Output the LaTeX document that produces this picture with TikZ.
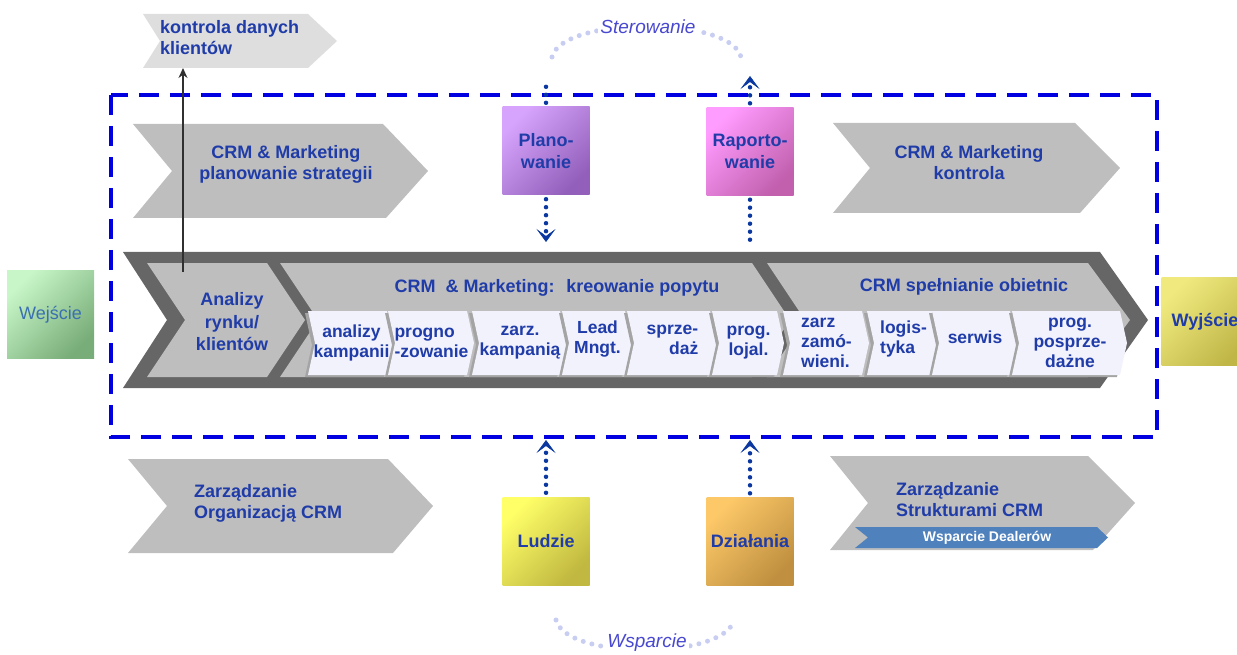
\documentclass[tikz,border=0pt]{standalone}
\usepackage{fontspec}
\setmainfont{Liberation Sans}
\usetikzlibrary{arrows.meta}

\definecolor{txtblue}{HTML}{1F3CA8}
\definecolor{inblue}{HTML}{3A70B0}
\definecolor{frameblue}{HTML}{0000E0}
\definecolor{dotblue}{HTML}{0A38A0}
\definecolor{arcdot}{HTML}{C8CDF2}
\definecolor{arclabel}{HTML}{4848D0}
\definecolor{chevdark}{HTML}{666666}
\definecolor{chevmid}{HTML}{BEBEBE}
\definecolor{chevlight}{HTML}{DEDEDE}
\definecolor{subfill}{HTML}{F2F2FD}
\definecolor{subshade}{HTML}{A4A4A4}
\definecolor{bannerblue}{HTML}{4F81BD}
\definecolor{arrowgrey}{HTML}{303030}
\definecolor{greenA}{RGB}{200,246,200}
\definecolor{greenB}{RGB}{120,172,120}
\definecolor{oliveA}{RGB}{240,234,126}
\definecolor{oliveB}{RGB}{192,182,72}
\definecolor{violetA}{RGB}{214,164,252}
\definecolor{violetB}{RGB}{146,96,186}
\definecolor{pinkA}{RGB}{255,156,255}
\definecolor{pinkB}{RGB}{194,96,174}
\definecolor{yellowA}{RGB}{255,255,104}
\definecolor{yellowB}{RGB}{192,184,64}
\definecolor{orangeA}{RGB}{252,200,104}
\definecolor{orangeB}{RGB}{192,144,64}

% one white step box inside a process chevron: left x, right x, name, text options, text
\newcommand\stepbox[5]{%
  \fill[subshade] (#1-3,313) -- (#2-3,313) -- (#2+4,345) -- (#2-3,377) -- (#1-3,377) -- (#1+4,345) -- cycle;
  \fill[subfill] (#1,311) -- (#2,311) -- (#2+7,343) -- (#2,375) -- (#1,375) -- (#1+7,343) -- cycle;
  \node[sublbl,#4] (#3) at ({(#1+#2)/2+4},343) {#5};}

\begin{document}
\begin{tikzpicture}[x=1pt,y=-1pt,
  lbl/.style={font=\bfseries\fontsize{18}{21}\selectfont, text=txtblue, align=center, inner sep=0pt},
  sublbl/.style={font=\bfseries\fontsize{17.5}{20}\selectfont, text=txtblue, align=center, inner sep=0pt},
  sq/.style 2 args={minimum width=87pt, minimum height=88pt, inner sep=0pt,
             top color=#1, bottom color=#2, shading angle=45,
             font=\bfseries\fontsize{18}{22}\selectfont, text=txtblue, align=center},
  frame/.style={draw=frameblue, line width=4pt, dash pattern=on 20pt off 11pt},
  dotconn/.style={draw=dotblue, line width=4.5pt, line cap=round, dash pattern=on 0pt off 8pt},
  tipped/.style={-{Stealth[length=13pt,width=19pt,inset=7pt,line width=0.5pt]}},
  arcdots/.style={draw=arcdot, line width=5pt, line cap=round, dash pattern=on 0pt off 9pt},
  arclbl/.style={font=\itshape\fontsize{19}{22}\selectfont, text=arclabel, fill=white, inner sep=2pt},
  flowup/.style={draw=arrowgrey, line width=1.3pt, -{Stealth[length=10pt,width=9pt]}}
]
\useasboundingbox (0,0) rectangle (1237,655);
\clip (0,0) rectangle (1237,655);

% dashed system boundary
\draw[frame] (111,95) rectangle (1157,437);

% small chevron: customer data control
\fill[chevlight] (143,14) -- (308,14) -- (337,41) -- (308,68) -- (143,68) -- (160,41) -- cycle;
\node[lbl, align=left, anchor=west] (kd) at (160,38) {kontrola danych\\klientów};

% upper chevrons
\fill[chevmid] (133,124) -- (383,124) -- (428,171) -- (386,218) -- (133,218) -- (172,171) -- cycle;
\node[lbl] (strat) at (286,164) {CRM \& Marketing\\planowanie strategii};
\fill[chevmid] (833,123) -- (1075,123) -- (1120,168) -- (1080,213) -- (833,213) -- (870,168) -- cycle;
\node[lbl] (ctrl) at (969,163) {CRM \& Marketing\\kontrola};

% lower chevrons
\fill[chevmid] (128,459) -- (388,459) -- (433,506) -- (393,553) -- (128,553) -- (167,506) -- cycle;
\node[lbl, align=left, anchor=west] (org) at (194,503) {Zarządzanie\\Organizacją CRM};
\fill[chevmid] (830,456) -- (1088,456) -- (1135,503) -- (1093,550) -- (830,550) -- (868,503) -- cycle;
\node[lbl, align=left, anchor=west] (str) at (896,500) {Zarządzanie\\Strukturami CRM};
\fill[bannerblue] (855,527) -- (1097,527) -- (1108,537.5) -- (1097,548) -- (855,548) -- (868,537.5) -- cycle;
\node[font=\bfseries\fontsize{14}{16}\selectfont, text=white, inner sep=0pt] (wd) at (987,538) {Wsparcie Dealerów};

% main process chevron
\fill[chevdark] (123,252) -- (1100,252) -- (1148,320) -- (1100,388) -- (123,388) -- (167,320) -- cycle;
\fill[chevmid] (147,263) -- (267,263) -- (305,320) -- (267,377) -- (147,377) -- (185,320) -- cycle;
\fill[chevmid] (280,263) -- (752,263) -- (790,320) -- (752,377) -- (280,377) -- (318,320) -- cycle;
\fill[chevmid] (767,263) -- (1088,263) -- (1130,320) -- (1088,377) -- (767,377) -- (805,320) -- cycle;
\node[lbl, font=\bfseries\fontsize{18}{22.5}\selectfont] (ana) at (232,322) {Analizy\\rynku/\\klientów};
\node[lbl] (demand) at (557,288) {CRM \ \& Marketing: \ kreowanie popytu};
\node[lbl] (fulfil) at (964,287) {CRM spełnianie obietnic};

% steps of demand creation
\stepbox{308}{387}{s1}{}{analizy\\kampanii}
\stepbox{388}{467}{s2}{align=left}{progno\\-zowanie}
\stepbox{472}{560}{s3}{}{zarz.\\kampanią}
\stepbox{562}{625}{s4}{yshift=4pt}{Lead\\Mngt.}
\stepbox{627}{710}{s5}{align=right, yshift=3pt}{sprze-\\daż}
\stepbox{712}{777}{s6}{}{prog.\\lojal.}
% steps of promise fulfilment
\stepbox{783}{862}{s7}{align=left}{zarz\\zamó-\\wieni.}
\stepbox{867}{932}{s8}{align=left, yshift=4pt}{logis-\\tyka}
\stepbox{932}{1010}{s9}{yshift=6pt}{serwis}
\stepbox{1012}{1120}{s10}{}{prog.\\posprze-\\dażne}

% input / output
\node[sq={greenA}{greenB}, font=\fontsize{18}{22}\selectfont, text=inblue] (wej) at (50.5,314.5) {Wejście};
\node[sq={oliveA}{oliveB}] (wyj) at (1205,321.5) {Wyjście};

% control and support boxes
\node[sq={violetA}{violetB}] (plan) at (546,151) {Plano-\\wanie};
\node[sq={pinkA}{pinkB}] (rap) at (750,151.5) {Raporto-\\wanie};
\node[sq={yellowA}{yellowB}] (lud) at (546,541) {Ludzie};
\node[sq={orangeA}{orangeB}] (dzi) at (750,541.5) {Działania};

% connector end points
\coordinate (planTop) at (546,82);
\coordinate (planIn) at (546,242);
\coordinate (rapOut) at (750,76);
\coordinate (rapFrom) at (750,246);
\coordinate (ludOut) at (546,440);
\coordinate (dziOut) at (750,440);
\coordinate (anaTop) at (183,272);
\coordinate (kdBottom) at (183,68);

% dotted control / support links
\draw[dotconn] ([yshift=4pt]plan.north) -- (planTop);
\draw[dotconn, tipped] ([yshift=-4pt]plan.south) -- (planIn);
\draw[dotconn, tipped] ([yshift=4pt]rap.north) -- (rapOut);
\draw[dotconn] ([yshift=-4pt]rap.south) -- (rapFrom);
\draw[dotconn, tipped] ([yshift=4pt]lud.north) -- (ludOut);
\draw[dotconn, tipped] ([yshift=4pt]dzi.north) -- (dziOut);

% control and support cycles
\coordinate (sterL) at (552,57);
\coordinate (sterR) at (741,57);
\draw[arcdots] (sterL) .. controls (562,16) and (731,16) .. (sterR);
\node[arclbl] (ster) at (648,27) {Sterowanie};
\coordinate (wspL) at (556,620);
\coordinate (wspR) at (734,620);
\draw[arcdots] (wspL) .. controls (566,660) and (724,660) .. (wspR);
\node[arclbl] (wsp) at (647,643) {Wsparcie};

% analysis feeds customer data control
\draw[flowup] (anaTop) -- (kdBottom);
\end{tikzpicture}
\end{document}
